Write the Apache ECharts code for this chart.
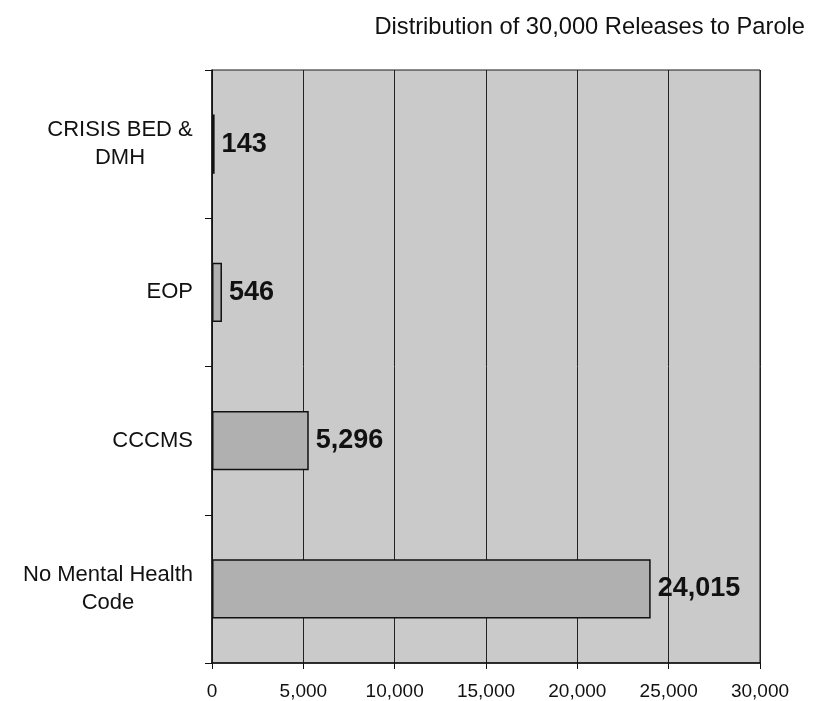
<!DOCTYPE html>
<html>
<head>
<meta charset="utf-8">
<style>
  html, body { margin: 0; padding: 0; background: #ffffff; }
  #chart { width: 814px; height: 701px; }
</style>
<script src="https://cdn.jsdelivr.net/npm/echarts@6/dist/echarts.min.js"></script>
</head>
<body>
<div id="chart"></div>
<script>
// Mental health classification of parolees (top to bottom on the chart)
const categories = ['CRISIS BED &\nDMH', 'EOP', 'CCCMS', 'No Mental Health\nCode'];
const releases = [143, 546, 5296, 24015];
const xTicks = [0, 5000, 10000, 15000, 20000, 25000, 30000];
const titleText = 'Distribution of 30,000 Releases to Parole';

const fontFamily = 'Arial, "Liberation Sans", Helvetica, sans-serif';
const catFontSize = 22;
const fmt = v => v.toLocaleString('en-US');

// Measure text so multi-line category labels can be centred within their own block
const measureCtx = document.createElement('canvas').getContext('2d');
measureCtx.font = catFontSize + 'px ' + fontFamily;
const textWidth = s => Math.ceil(measureCtx.measureText(s).width);

const rich = {};
categories.forEach((c, i) => {
  const lines = c.split('\n');
  if (lines.length > 1) {
    rich['c' + i] = {
      width: Math.max.apply(null, lines.map(textWidth)),
      align: 'center',
      fontFamily, fontSize: catFontSize, lineHeight: 28, color: '#111'
    };
  }
});

const chart = echarts.init(document.getElementById('chart'));
chart.setOption({
  animation: false,
  backgroundColor: '#ffffff',
  title: {
    text: titleText,
    right: 4,
    top: 10,
    textStyle: { fontFamily, fontSize: 23.7, fontWeight: 'normal', color: '#111' }
  },
  grid: {
    left: 212, right: 54, top: 70, bottom: 36,
    show: true,
    backgroundColor: '#cacaca',
    borderColor: '#1a1a1a',
    borderWidth: 1
  },
  xAxis: {
    type: 'value',
    min: xTicks[0],
    max: xTicks[xTicks.length - 1],
    interval: xTicks[1] - xTicks[0],
    axisLine: { show: true, lineStyle: { color: '#111', width: 1.5 } },
    axisTick: { show: true, length: 6, lineStyle: { color: '#111' } },
    axisLabel: {
      margin: 19, fontFamily, fontSize: 19, color: '#111',
      formatter: v => fmt(v)
    },
    splitLine: { show: true, lineStyle: { color: '#222', width: 1 } }
  },
  yAxis: {
    type: 'category',
    inverse: true,
    data: categories,
    axisLine: { show: true, lineStyle: { color: '#111', width: 1.5 } },
    axisTick: { show: true, length: 7, lineStyle: { color: '#111' } },
    axisLabel: {
      margin: 19,
      fontFamily, fontSize: catFontSize, color: '#111',
      lineHeight: 28,
      align: 'right',
      formatter: (v, i) => {
        const lines = v.split('\n');
        if (lines.length === 1) return v;
        return lines.map(l => '{c' + i + '|' + l + '}').join('\n');
      },
      rich
    }
  },
  series: [{
    type: 'bar',
    data: releases,
    barCategoryGap: '60%',
    itemStyle: { color: '#b0b0b0', borderColor: '#111', borderWidth: 1.5 },
    label: {
      show: true,
      position: 'right',
      distance: 7,
      fontFamily, fontSize: 27, fontWeight: 'bold', color: '#111',
      formatter: p => fmt(p.value)
    }
  }]
});
</script>
</body>
</html>
